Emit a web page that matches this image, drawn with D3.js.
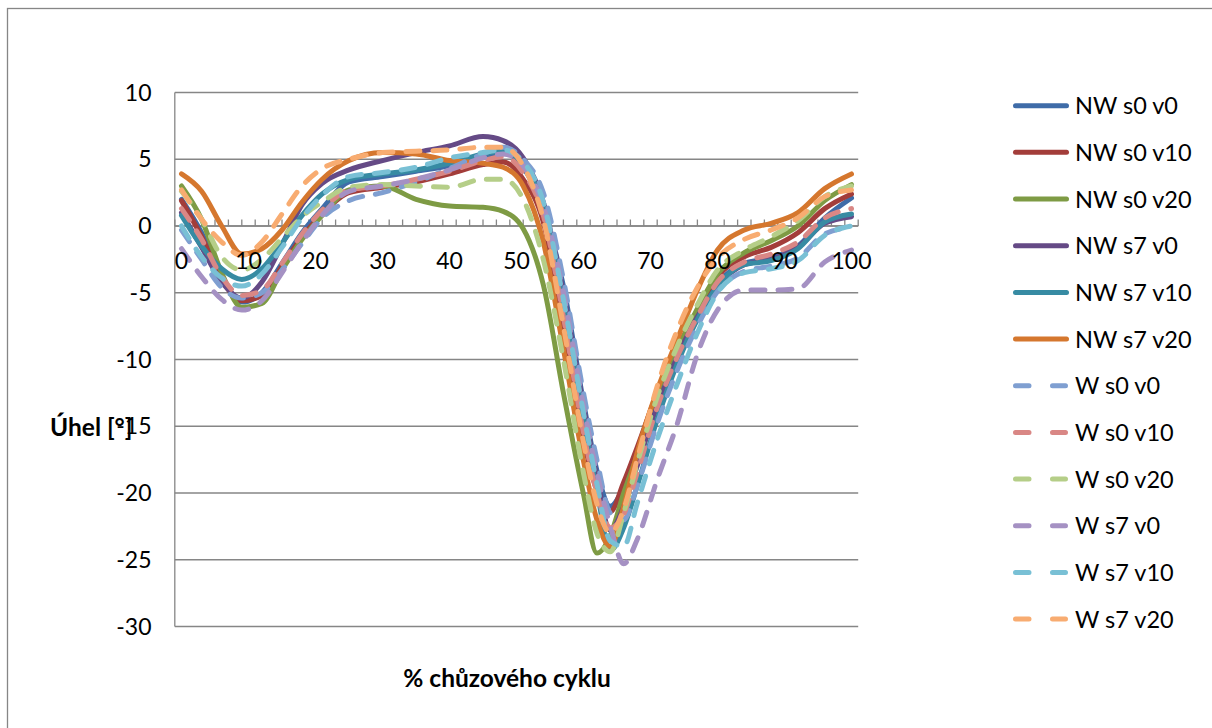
<!DOCTYPE html>
<html>
<head>
<meta charset="utf-8">
<script src="https://cdn.jsdelivr.net/npm/d3@7"></script>
<style>
  body { margin: 0; background: #fff; }
  svg { display: block; }
  text { font-family: Lato, "Liberation Sans", sans-serif; fill: #000; }
</style>
</head>
<body>
<svg id="chart" width="1212" height="728"></svg>
<script>
// Gait cycle positions (% of cycle) at which each curve is sampled
const pct = [0,3,6,9,12,15,18,21,25,30,35,40,45,48,51,54,57,60,62,64,66,68,71,74,77,80,84,88,92,96,100];

// Joint angle [°] per condition
const nwS0v0  = [2.0,-0.5,-3.8,-5.7,-5.0,-2.8,-0.5,1.3,3.3,3.7,4.1,4.5,5.2,5.5,4.4,1.2,-4.5,-13.2,-18.3,-21.0,-19.6,-17.3,-13.2,-9.6,-6.6,-4.3,-2.8,-2.4,-1.5,0.6,2.1];
const nwS0v10 = [1.9,-0.8,-4.0,-5.6,-5.2,-3.0,-0.8,0.9,2.5,2.9,3.3,3.9,4.6,4.8,3.5,0.3,-7.5,-16.0,-19.8,-21.4,-19.2,-16.6,-12.5,-9.2,-6.3,-3.8,-2.3,-1.6,-0.5,1.3,2.4];
const nwS0v20 = [3.0,0.5,-3.5,-6.1,-5.8,-3.3,-1.0,0.8,2.7,3.0,2.0,1.5,1.4,1.1,-0.2,-4.4,-12.5,-20.1,-24.5,-23.2,-20.0,-17.2,-12.8,-9.3,-6.2,-3.6,-2.0,-1.1,0.0,1.9,3.1];
const nwS7v0  = [1.0,-1.6,-4.2,-5.4,-4.2,-1.4,1.6,3.2,4.2,4.9,5.5,6.0,6.7,6.4,5.1,1.8,-5.0,-13.5,-18.8,-22.8,-21.0,-18.0,-13.5,-9.8,-6.8,-4.5,-2.9,-2.5,-1.6,0.2,0.7];
const nwS7v10 = [0.8,-1.5,-3.2,-4.0,-3.2,-1.3,0.8,2.4,3.5,3.9,4.2,4.7,5.4,5.6,4.6,1.4,-6.0,-14.5,-19.8,-24.3,-22.6,-19.5,-14.5,-10.3,-7.0,-4.5,-2.9,-2.6,-1.7,0.3,0.9];
const nwS7v20 = [3.9,2.6,0.0,-2.1,-1.7,-0.3,1.8,3.5,4.9,5.5,5.4,4.9,4.7,4.4,3.0,-1.2,-9.2,-17.6,-22.0,-24.0,-21.0,-17.0,-12.3,-8.5,-4.8,-1.8,-0.3,0.2,1.0,2.8,3.9];
const wS0v0   = [-0.3,-2.5,-4.6,-5.4,-5.0,-3.3,-1.3,0.6,1.9,2.5,3.3,4.3,5.4,5.9,5.0,2.5,-4.0,-12.5,-17.5,-21.5,-22.0,-19.5,-14.8,-10.8,-7.5,-4.9,-3.4,-3.0,-2.4,-0.6,-0.1];
const wS0v10  = [1.3,-1.0,-3.8,-5.2,-4.8,-2.8,-0.6,1.2,2.7,3.0,3.5,4.1,4.9,5.2,4.0,0.8,-6.8,-15.5,-20.0,-22.6,-21.6,-18.5,-13.6,-9.8,-6.8,-4.2,-2.7,-2.1,-1.2,0.6,1.3];
const wS0v20  = [2.6,0.5,-2.3,-3.3,-2.5,-0.9,0.7,1.8,2.9,3.1,3.0,2.9,3.5,3.5,2.0,-2.5,-10.0,-18.5,-23.0,-24.4,-21.5,-17.8,-12.8,-9.0,-5.9,-3.3,-1.8,-0.8,0.4,2.2,3.0];
const wS7v0   = [-1.7,-3.8,-5.5,-6.3,-5.6,-3.5,-1.2,0.8,2.6,3.0,3.5,4.2,5.1,5.4,4.5,1.5,-5.0,-13.5,-18.5,-22.5,-25.3,-23.5,-19.0,-14.8,-9.6,-6.3,-4.8,-4.8,-4.7,-2.7,-1.8];
const wS7v10  = [0.0,-2.3,-3.9,-4.5,-3.6,-1.6,0.6,2.3,3.7,4.0,4.4,5.1,5.5,5.7,4.8,1.8,-5.5,-14.0,-19.3,-23.6,-24.0,-20.8,-16.0,-11.8,-8.0,-5.0,-3.5,-3.2,-2.6,-0.7,0.0];
const wS7v20  = [2.7,0.5,-1.2,-2.2,-1.2,0.9,3.0,4.3,5.0,5.5,5.6,5.7,5.9,5.9,4.5,0.5,-7.5,-16.2,-20.8,-23.0,-21.2,-17.5,-12.0,-7.8,-4.6,-2.4,-1.0,-0.3,0.6,2.2,2.7];

const seriesNames = ["NW s0 v0","NW s0 v10","NW s0 v20","NW s7 v0","NW s7 v10","NW s7 v20",
                     "W s0 v0","W s0 v10","W s0 v20","W s7 v0","W s7 v10","W s7 v20"];
const seriesValues = [nwS0v0,nwS0v10,nwS0v20,nwS7v0,nwS7v10,nwS7v20,wS0v0,wS0v10,wS0v20,wS7v0,wS7v10,wS7v20];

const yTickValues = [10,5,0,-5,-10,-15,-20,-25,-30];
const xTickLabels = [0,10,20,30,40,50,60,70,80,90,100];

const yTitle = "Úhel [°]";
const xTitle = "% chůzového cyklu";

// ---- styling ----
const colors = ["#3F6CA8","#A33D3A","#7E9B44","#654A86","#378BA3","#D5772E",
                "#7F9FD1","#D98785","#B5CE88","#A591C3","#79C0D5","#F8AC71"];
const dashed = [false,false,false,false,false,false,true,true,true,true,true,true];
const gridColor = "#868686";
const lineW = 5;

const svg = d3.select("#chart");

// outer chart border
svg.append("rect")
  .attr("x", 7.5).attr("y", 8.5)
  .attr("width", 1240).attr("height", 760)
  .attr("fill", "none").attr("stroke", gridColor).attr("stroke-width", 1.3);

const x = d3.scaleLinear().domain([0, 100]).range([181.5, 851.5]);
const y = d3.scaleLinear().domain([-30, 10]).range([626.5, 92.5]);

const plotLeft = x(-1), plotRight = x(101);

// horizontal gridlines
svg.append("g").selectAll("line")
  .data(yTickValues)
  .join("line")
  .attr("x1", plotLeft).attr("x2", plotRight)
  .attr("y1", d => y(d)).attr("y2", d => y(d))
  .attr("stroke", gridColor).attr("stroke-width", 1.3);

// vertical value axis line
svg.append("line")
  .attr("x1", plotLeft).attr("x2", plotLeft)
  .attr("y1", y(10)).attr("y2", y(-30))
  .attr("stroke", gridColor).attr("stroke-width", 1.3);

// value axis labels
svg.append("g").selectAll("text")
  .data(yTickValues)
  .join("text")
  .attr("x", 151.5)
  .attr("y", d => y(d) + 8)
  .attr("text-anchor", "end")
  .attr("font-size", 23)
  .text(d => d);

// category axis along zero with small upward ticks every 2 %
const tickPos = d3.range(-1, 102, 2);
const xAxisG = svg.append("g");
xAxisG.append("line")
  .attr("x1", plotLeft).attr("x2", plotRight)
  .attr("y1", y(0)).attr("y2", y(0))
  .attr("stroke", gridColor).attr("stroke-width", 1.3);
xAxisG.selectAll("line.tick")
  .data(tickPos)
  .join("line")
  .attr("class", "tick")
  .attr("x1", d => x(d)).attr("x2", d => x(d))
  .attr("y1", y(0)).attr("y2", y(0) - 6.5)
  .attr("stroke", gridColor).attr("stroke-width", 1.3);

// series lines
const lineGen = d3.line()
  .x((d, i) => x(pct[i]))
  .y(d => y(d))
  .curve(d3.curveMonotoneX);

const linesG = svg.append("g");
seriesValues.forEach((vals, s) => {
  linesG.append("path")
    .datum(vals)
    .attr("d", lineGen)
    .attr("fill", "none")
    .attr("stroke", colors[s])
    .attr("stroke-width", lineW)
    .attr("stroke-linecap", "round")
    .attr("stroke-linejoin", "round")
    .attr("stroke-dasharray", dashed[s] ? "14,13" : null);
});

// category labels (drawn over the lines)
svg.append("g").selectAll("text")
  .data(xTickLabels)
  .join("text")
  .attr("x", d => x(d))
  .attr("y", 269)
  .attr("text-anchor", "middle")
  .attr("font-size", 23)
  .text(d => d);

// axis titles
svg.append("text")
  .attr("x", 50).attr("y", 436)
  .attr("font-size", 24.5).attr("font-weight", "bold")
  .text(yTitle);
svg.append("text")
  .attr("x", 507).attr("y", 687)
  .attr("text-anchor", "middle")
  .attr("font-size", 24.5).attr("font-weight", "bold")
  .text(xTitle);

// legend
const legend = svg.append("g");
seriesNames.forEach((name, s) => {
  const ly = 105.7 + s * 46.67;
  legend.append("line")
    .attr("x1", 1015.5).attr("x2", dashed[s] ? 1065.5 : 1066.5)
    .attr("y1", ly).attr("y2", ly)
    .attr("stroke", colors[s])
    .attr("stroke-width", lineW)
    .attr("stroke-linecap", "round")
    .attr("stroke-dasharray", dashed[s] ? "13.5,23.5" : null);
  legend.append("text")
    .attr("x", 1075).attr("y", ly + 8.5)
    .attr("font-size", 23.5)
    .text(name);
});
</script>
</body>
</html>
